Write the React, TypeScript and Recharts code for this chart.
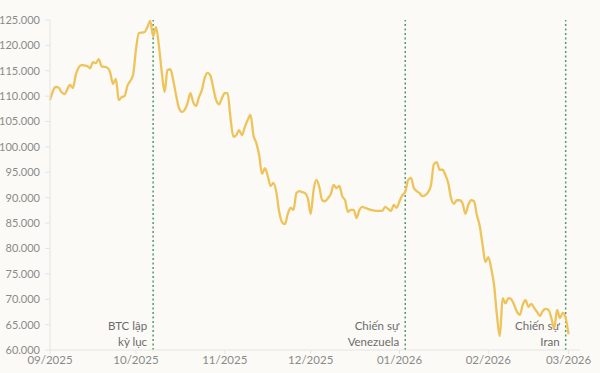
import { LineChart, Line, XAxis, YAxis, ReferenceLine } from "recharts"

// days since 2025-09-01
const days = [
  0, 2, 3, 4, 5, 7, 8, 9, 11, 13, 14, 15, 16, 17, 18, 20, 21, 22, 23, 24, 25, 26, 27, 29, 30,
  31, 33, 34, 35, 36, 37, 38, 39, 40, 41, 42, 43, 44, 45, 46, 47, 48, 49, 50, 51, 52, 53, 54,
  55, 56, 57, 58, 59, 60, 61, 62, 63, 64, 65, 66, 67, 68, 69, 70, 71, 72, 73, 74, 75, 76, 77,
  78, 79, 80, 81, 82, 83, 84, 85, 86, 87, 88, 89, 90, 91, 92, 93, 94, 95, 96, 97, 98, 99, 100,
  101, 102, 103, 104, 105, 106, 107, 108, 109, 110, 112, 114, 116, 117, 118, 119, 120, 121,
  122, 123, 124, 125, 126, 127, 128, 129, 130, 131, 132, 133, 134, 135, 136, 137, 138, 139,
  140, 141, 142, 143, 144, 145, 146, 147, 148, 149, 150, 151, 152, 153, 154, 155, 156, 157,
  158, 159, 160, 161, 162, 163, 164, 165, 166, 167, 168, 169, 170, 171, 172, 173, 174, 175,
  176, 177, 178, 179, 180, 181,
]

const prices = [
  109200, 111800, 111700, 110800, 110400, 112200, 111600, 114200, 116100, 115900, 115500,
  116700, 116500, 117300, 115900, 115600, 114700, 112400, 113400, 109200, 109800, 110000,
  112000, 114200, 119100, 122400, 122600, 123600, 124800, 121800, 123600, 120000,
  114800, 110800, 115100, 115300, 113200, 110200, 107700, 106900, 107300, 108600, 110600,
  108800, 108100, 109800, 111200, 113600, 114600, 114000, 111600, 109200, 108400, 109600,
  110600, 110600, 105700, 102000, 102300, 103300, 102300, 103900, 105300, 106300, 102300,
  100800, 98400, 94700, 95800, 94300, 92300, 92900, 91100, 87200, 85200, 84800, 86800, 88000,
  87600, 90900, 91300, 91100, 90900, 89900, 86800, 91500, 93500, 92100, 89500, 89300, 89900,
  90700, 92500, 91900, 92300, 90300, 89500, 87200, 87600, 87600, 86000, 87600, 88200, 88000,
  87600, 87400, 87400, 88200, 87800, 87400, 88600, 88000, 89300, 90500, 91100, 93500, 93900,
  91900, 91300, 90900, 90300, 90500, 91100, 92500, 96600, 97000, 95500, 95500, 94500, 92900,
  89900, 88800, 89500, 89500, 88900, 86800, 88600, 89500, 89300, 86600, 84400, 80700, 77300,
  78300, 76100, 72800, 66900, 62700, 70200, 69200, 70200, 70000, 68900, 67500, 66900, 68900,
  69800, 68500, 69100, 68300, 67500, 66700, 67700, 68100, 67900, 66300, 64300, 67900, 66300,
  67300, 66300, 63100,
]

const monthTicks = [0, 30, 61, 91, 122, 153, 181]
const monthLabels = ["09/2025", "10/2025", "11/2025", "12/2025", "01/2026", "02/2026", "03/2026"]
const yTicks = [60000, 65000, 70000, 75000, 80000, 85000, 90000, 95000, 100000, 105000, 110000, 115000, 120000, 125000]

const eventDays = [36, 124, 180]
const eventLabels = [
  ["BTC lập", "kỳ lục"],
  ["Chiến sự", "Venezuela"],
  ["Chiến sự", "Iran"],
]

const data = days.map((d, i) => ({ day: d, price: prices[i] }))

const font = "Lato, 'Noto Sans', sans-serif"

function EventLabel({ viewBox, lines }: any) {
  const { x, y, height } = viewBox
  const bottom = y + height
  return (
    <text x={x - 6} y={bottom - 20} textAnchor="end" fill="#6b6b6b" fontSize={11.5} fontFamily={font}>
      <tspan x={x - 6} y={bottom - 20}>{lines[0]}</tspan>
      <tspan x={x - 6} y={bottom - 4}>{lines[1]}</tspan>
    </text>
  )
}

export default function App() {
  return (
    <div style={{ position: "absolute", left: 0, top: 0, width: 600, height: 373, background: "#fbfaf6" }}>
      <LineChart width={600} height={373} data={data} margin={{ top: 20, right: 20, bottom: 0, left: 0 }}>
        <XAxis
          dataKey="day"
          type="number"
          domain={[0, 185]}
          ticks={monthTicks}
          tickFormatter={(v: number) => monthLabels[monthTicks.indexOf(v)] ?? ""}
          height={23}
          tickSize={4}
          tickMargin={2}
          stroke="#e4e4e2"
          tick={{ fill: "#8a8a8a", fontSize: 11.5, fontFamily: font }}
          interval={0}
        />
        <YAxis
          type="number"
          domain={[60000, 125000]}
          ticks={yTicks}
          width={50}
          tickSize={5}
          tickMargin={5}
          stroke="#e4e4e2"
          tick={{ fill: "#8a8a8a", fontSize: 11, fontFamily: font }}
          tickFormatter={(v: number) => v.toLocaleString("de-DE")}
          interval={0}
        />
        {eventDays.map((d, i) => (
          <ReferenceLine
            key={d}
            x={d}
            stroke="#4f9a6c"
            strokeWidth={1.5}
            strokeDasharray="2 2.5"
            label={<EventLabel lines={eventLabels[i]} />}
          />
        ))}
        <Line
          type="monotone"
          dataKey="price"
          stroke="#eec35a"
          strokeWidth={2.3}
          dot={false}
          isAnimationActive={false}
        />
      </LineChart>
    </div>
  )
}
